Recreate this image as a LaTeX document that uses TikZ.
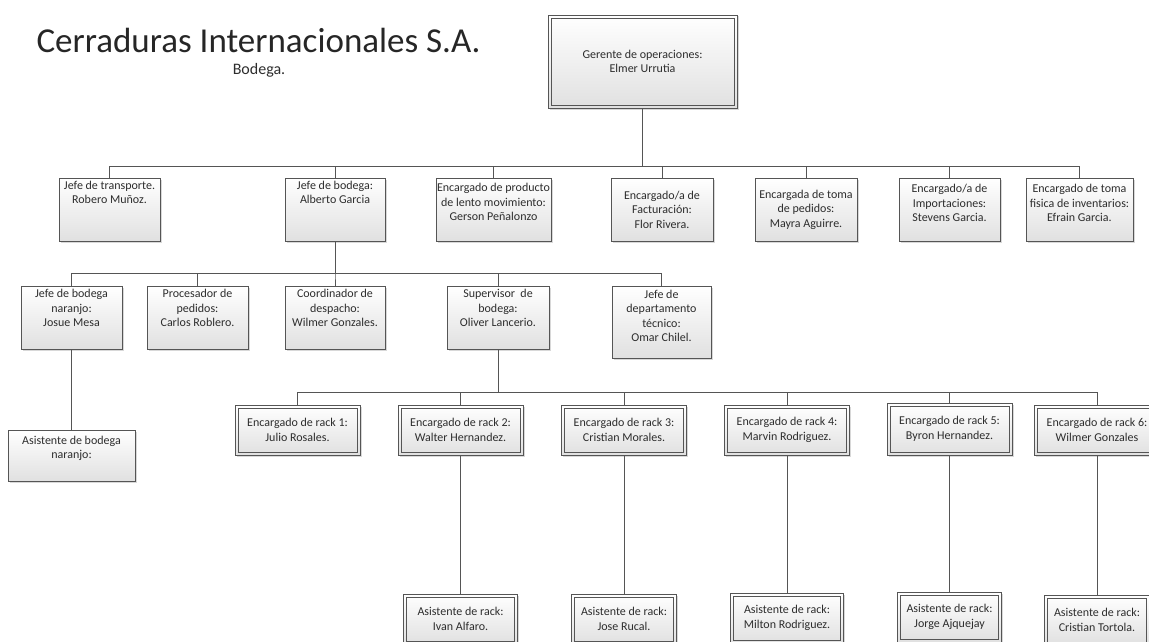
\documentclass[tikz,border=0pt]{standalone}
\usepackage{fontspec}
\setmainfont{Carlito}
\usepackage{tikz}
\usetikzlibrary{positioning, shadows}
\definecolor{linegray}{RGB}{85,85,85}
\definecolor{textgray}{RGB}{45,45,45}
% lifts a block of lines without changing the node size
\newcommand{\lift}[2]{\raisebox{#1}[\height][\depth]{\begin{tabular}{@{}c@{}}#2\end{tabular}}}

\begin{document}
\begin{tikzpicture}[
    x=1pt, y=-1pt,
    box/.style={rectangle, draw=linegray, line width=0.7pt,
                top color=white, bottom color=black!12,
                minimum width=#1, inner sep=0pt, align=center, text=textgray,
                font=\fontsize{12}{14.5}\selectfont,
                drop shadow={shadow xshift=1.5pt, shadow yshift=-1.5pt, fill=black!30, opacity=0.5}},
    dbox/.style={box=#1,
                path picture={\draw[linegray, line width=0.7pt]
                    ([shift={(3pt,-3pt)}]path picture bounding box.north west) rectangle
                    ([shift={(-3pt,3pt)}]path picture bounding box.south east);}},
    conn/.style={draw=linegray, line width=0.8pt}
]
    \useasboundingbox (0,0) rectangle (1149,642);
    \clip (0,0) rectangle (1149,642);

    % Title
    \node[anchor=west, font=\fontsize{35}{40}\selectfont, text=black!85] (titulo) at (33,40) {Cerraduras Internacionales S.A.};
    \node[font=\fontsize{16}{19}\selectfont, text=textgray] (sub) at (259,70) {Bodega.};

    % Gerente
    \node[dbox=189, minimum height=93] (gerente) at (642.5,61.5) {Gerente de operaciones:\\Elmer Urrutia};

    % Second level
    \node[box=101, minimum height=63] (transporte) at (109.5,209.5) {\lift{16pt}{Jefe de transporte.\\Robero Muñoz.}};
    \node[box=100, minimum height=63] (jbodega) at (335,209.5) {\lift{16pt}{Jefe de bodega:\\Alberto Garcia}};
    \node[box=115, minimum height=63] (lento) at (493.5,209.5) {\lift{6pt}{Encargado de producto\\de lento movimiento:\\Gerson Peñalonzo}};
    \node[box=102, minimum height=63] (factura) at (662,209.5) {Encargado/a de\\Facturación:\\Flor Rivera.};
    \node[box=102, minimum height=63] (pedidos) at (806,209.5) {Encargada de toma\\de pedidos:\\Mayra Aguirre.};
    \node[box=101, minimum height=63] (import) at (949.5,209.5) {\lift{5pt}{Encargado/a de\\Importaciones:\\Stevens Garcia.}};
    \node[box=107, minimum height=63] (inventario) at (1079.5,209.5) {\lift{5pt}{Encargado de toma\\fisica de inventarios:\\Efrain Garcia.}};

    % Third level
    \node[box=101, minimum height=63] (naranjo) at (71.5,317.5) {\lift{8pt}{Jefe de bodega\\naranjo:\\Josue Mesa}};
    \node[box=101, minimum height=63] (procesador) at (197.5,317.5) {\lift{8pt}{Procesador de\\pedidos:\\Carlos Roblero.}};
    \node[box=100, minimum height=63] (despacho) at (335,317.5) {\lift{8pt}{Coordinador de\\despacho:\\Wilmer Gonzales.}};
    \node[box=102, minimum height=63] (supervisor) at (498,317.5) {\lift{8pt}{Supervisor~ de\\bodega:\\Oliver Lancerio.}};
    \node[box=99, minimum height=72] (tecnico) at (661.5,322) {\lift{5pt}{Jefe de\\departamento\\técnico:\\Omar Chilel.}};
    \node[box=127, minimum height=51] (asistnar) at (71.5,455.5) {\lift{7pt}{Asistente de bodega\\naranjo:}};

    % Racks
    \node[dbox=125, minimum height=50] (rack1) at (297.5,430) {Encargado de rack 1:\\Julio Rosales.};
    \node[dbox=125, minimum height=50] (rack2) at (460.5,430) {Encargado de rack 2:\\Walter Hernandez.};
    \node[dbox=125, minimum height=50] (rack3) at (624,430) {Encargado de rack 3:\\Cristian Morales.};
    \node[dbox=125, minimum height=50] (rack4) at (787,430) {Encargado de rack 4:\\Marvin Rodriguez.};
    \node[dbox=125, minimum height=52] (rack5) at (949.5,429) {Encargado de rack 5:\\Byron Hernandez.};
    \node[dbox=125, minimum height=50] (rack6) at (1097,430) {Encargado de rack 6:\\Wilmer Gonzales};

    % Rack assistants
    \node[dbox=114, minimum height=50] (asist2) at (460.5,619) {Asistente de rack:\\Ivan Alfaro.};
    \node[dbox=105, minimum height=50] (asist3) at (624,619) {Asistente de rack:\\Jose Rucal.};
    \node[dbox=113, minimum height=50] (asist4) at (787,618) {Asistente de rack:\\Milton Rodriguez.};
    \node[dbox=104, minimum height=50] (asist5) at (949.5,617) {Asistente de rack:\\Jorge Ajquejay};
    \node[dbox=105, minimum height=50] (asist6) at (1097,620) {Asistente de rack:\\Cristian Tortola.};

    % Connectors
    \foreach \n in {transporte,jbodega,lento,factura,pedidos,import,inventario}
        \draw[conn] (gerente.south) -- ++(0,58) -| (\n.north);
    \foreach \n in {naranjo,procesador,despacho,supervisor,tecnico}
        \draw[conn] (jbodega.south) -- ++(0,32) -| (\n.north);
    \foreach \n in {rack1,rack2,rack3,rack4,rack5,rack6}
        \draw[conn] (supervisor.south) -- ++(0,43) -| (\n.north);
    \draw[conn] (naranjo.south) -- (asistnar.north);
    \foreach \i in {2,...,6}
        \draw[conn] (rack\i.south) -- (asist\i.north);
\end{tikzpicture}
\end{document}
